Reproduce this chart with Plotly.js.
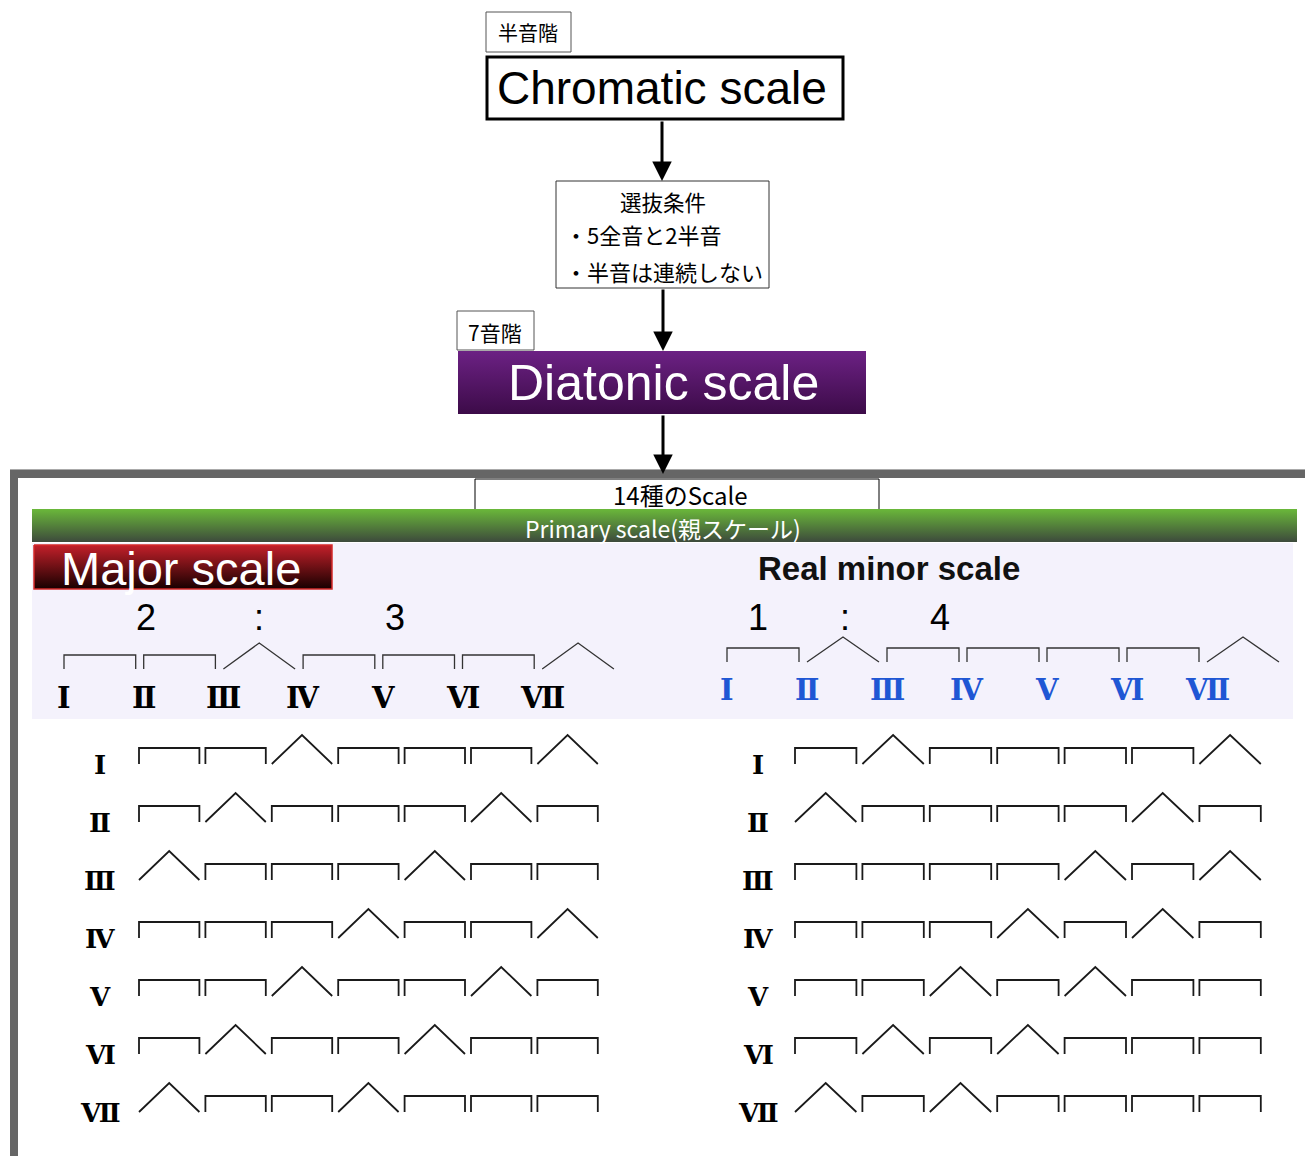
<!DOCTYPE html>
<html><head><meta charset="utf-8">
<script src="https://cdn.plot.ly/plotly-3.0.1.min.js"></script>
<style>html,body{margin:0;padding:0;background:#fff;}#chart{width:1305px;height:1156px;}</style>
</head><body><div id="chart"></div>
<script>
// ---------- data ----------
const romanNumerals = ['Ⅰ','Ⅱ','Ⅲ','Ⅳ','Ⅴ','Ⅵ','Ⅶ'];
const majorSteps = ['W','W','H','W','W','W','H'];
const minorSteps = ['W','H','W','W','W','W','H'];
const majorModes = [
  ['W','W','H','W','W','W','H'],
  ['W','H','W','W','W','H','W'],
  ['H','W','W','W','H','W','W'],
  ['W','W','W','H','W','W','H'],
  ['W','W','H','W','W','H','W'],
  ['W','H','W','W','H','W','W'],
  ['H','W','W','H','W','W','W']
];
const minorModes = [
  ['W','H','W','W','W','W','H'],
  ['H','W','W','W','W','H','W'],
  ['W','W','W','W','H','W','H'],
  ['W','W','W','H','W','H','W'],
  ['W','W','H','W','H','W','W'],
  ['W','H','W','H','W','W','W'],
  ['H','W','H','W','W','W','W']
];
const majorRatio = ['2',':','3'];
const minorRatio = ['1',':','4'];
const labelChromaticTag = '半音階';
const labelChromatic = 'Chromatic scale';
const labelConditionTitle = '選抜条件';
const labelConditions = ['・5全音と2半音','・半音は連続しない'];
const labelDiatonicTag = '7音階';
const labelDiatonic = 'Diatonic scale';
const label14 = '14種のScale';
const labelPrimary = 'Primary scale(親スケール)';
const labelMajor = 'Major scale';
const labelMinor = 'Real minor scale';

// ---------- helpers ----------
function pattern(steps, x0, w, inset, yTop, yBot, yPeak, xs, ys){
  steps.forEach((s,i)=>{
    const a = x0 + i*w + inset, b = x0 + (i+1)*w - inset;
    if (s === 'W'){
      xs.push(a,a,b,b,null); ys.push(yBot,yTop,yTop,yBot,null);
    } else {
      xs.push(a,(a+b)/2,b,null); ys.push(yBot,yPeak,yBot,null);
    }
  });
}
function box(x0,y0,x1,y1,lineColor,lineWidth,fill){
  return {type:'rect',xref:'x',yref:'y',x0:x0,y0:y0,x1:x1,y1:y1,
    line:{color:lineColor,width:lineWidth},fillcolor:fill,layer:'below'};
}
function gradRect(x0,y0,x1,y1,topColor,botColor,lineColor,lineWidth){
  return {type:'scatter',mode:'lines',x:[x0,x1,x1,x0,x0],y:[y0,y0,y1,y1,y0],
    fill:'toself',fillgradient:{type:'vertical',start:y0,stop:y1,
      colorscale:[[0,topColor],[1,botColor]]},
    line:{color:lineColor||'rgba(0,0,0,0)',width:lineWidth||0},
    hoverinfo:'skip',showlegend:false};
}
function ann(x,y,text,size,color,family,xanchor,extra){
  return Object.assign({x:x,y:y,xref:'x',yref:'y',text:text,showarrow:false,
    xanchor:xanchor||'center',yanchor:'middle',borderpad:0,
    font:{size:size,color:color||'#000',family:family||'Noto Sans CJK JP'}},extra||{});
}
function arrow(x,y0,y1){
  return {x:x,y:y1,ax:x,ay:y0,xref:'x',yref:'y',axref:'x',ayref:'y',text:'',
    showarrow:true,arrowhead:2,arrowsize:1.3,arrowwidth:3,arrowcolor:'#000',standoff:0};
}

const traces = [];
const shapes = [];
const annotations = [];

// frame
shapes.push({type:'line',x0:10,x1:1305,y0:469.5,y1:469.5,line:{color:'#aaa',width:1},layer:'below'});
shapes.push({type:'rect',x0:10,x1:1305,y0:470,y1:478,line:{width:0},fillcolor:'#666',layer:'below'});
shapes.push({type:'rect',x0:10,x1:18,y0:470,y1:1156,line:{width:0},fillcolor:'#666',layer:'below'});

// top boxes
shapes.push(box(486,12,571,52,'#555',1,'#fff'));
shapes.push(box(487,57,843,119,'#000',3,'#fff'));
shapes.push(box(556,181,769,288,'#333',1,'#fff'));
shapes.push(box(457,311,534,350,'#555',1,'#fff'));
shapes.push(box(475,479,879,512,'#000',1,'#fff'));
// lavender panel
shapes.push({type:'rect',x0:32,x1:1293,y0:543,y1:719,line:{width:0},fillcolor:'#f4f2fc',layer:'below'});

traces.push(gradRect(458,351,866,414,'#6c2184','#3c0b48'));
traces.push(gradRect(32,509,1297,542,'#6ab83a','#3d4a3c'));
traces.push(gradRect(34,545,332,589,'#c3202a','#180000','#d42a2a',1.5));

// header patterns
let hx=[],hy=[];
pattern(majorSteps,60,79.7,4,655,669,643,hx,hy);
pattern(minorSteps,723,80,4,648,662,637,hx,hy);
traces.push({type:'scatter',mode:'lines',x:hx,y:hy,line:{color:'#333',width:1.3},hoverinfo:'skip',showlegend:false});

// mode rows
let rx=[],ry=[];
majorModes.forEach((m,i)=>{ const t=748+i*58; pattern(m,136,66.4,3,t,t+16,t-13,rx,ry); });
minorModes.forEach((m,i)=>{ const t=748+i*58; pattern(m,792,67.4,3,t,t+16,t-13,rx,ry); });
traces.push({type:'scatter',mode:'lines',x:rx,y:ry,line:{color:'#1a1a1a',width:1.8},hoverinfo:'skip',showlegend:false});

// texts
const romanFont = 'Liberation Serif, DejaVu Serif';
annotations.push(ann(528,32,labelChromaticTag,20,'#000'));
annotations.push(ann(662,88,labelChromatic,46,'#000','Liberation Sans'));
annotations.push(ann(663,201,labelConditionTitle,21.5,'#000'));
annotations.push(ann(564,234,labelConditions[0],22,'#000',null,'left'));
annotations.push(ann(564,271,labelConditions[1],22,'#000',null,'left'));
annotations.push(ann(495,332,labelDiatonicTag,21,'#000'));
annotations.push(ann(663,383,labelDiatonic,50,'#fff','Liberation Sans'));
annotations.push(ann(680,494,label14,24,'#000'));
annotations.push(ann(663,528,labelPrimary,23,'#fff'));
annotations.push(ann(60,568,labelMajor,47,'#fff','Liberation Sans','left'));
annotations.push(ann(889,568,'<b>'+labelMinor+'</b>',33,'#111','Liberation Sans'));
[146,259,395].forEach((x,i)=>annotations.push(ann(x,617,majorRatio[i],36,'#000','Liberation Sans')));
[758,845,940].forEach((x,i)=>annotations.push(ann(x,617,minorRatio[i],36,'#000','Liberation Sans')));

romanNumerals.forEach((r,i)=>{
  annotations.push(ann(60+i*79.7+4,698,'<b>'+r+'</b>',29,'#000',romanFont));
  annotations.push(ann(723+i*80+4,690,'<b>'+r+'</b>',29,'#1f57d4',romanFont));
  annotations.push(ann(100,765+i*58,'<b>'+r+'</b>',26,'#000',romanFont));
  annotations.push(ann(758,765+i*58,'<b>'+r+'</b>',26,'#000',romanFont));
});

annotations.push(arrow(662,120,181));
annotations.push(arrow(663,288,351));
annotations.push(arrow(663,414,474));

const layout = {
  width:1305,height:1156,margin:{l:0,r:0,t:0,b:0,pad:0},
  paper_bgcolor:'#fff',plot_bgcolor:'#fff',showlegend:false,
  xaxis:{range:[0,1305],visible:false,fixedrange:true},
  yaxis:{range:[1156,0],visible:false,fixedrange:true},
  shapes:shapes,annotations:annotations
};
Plotly.newPlot('chart',traces,layout,{staticPlot:true,displayModeBar:false});
</script></body></html>
